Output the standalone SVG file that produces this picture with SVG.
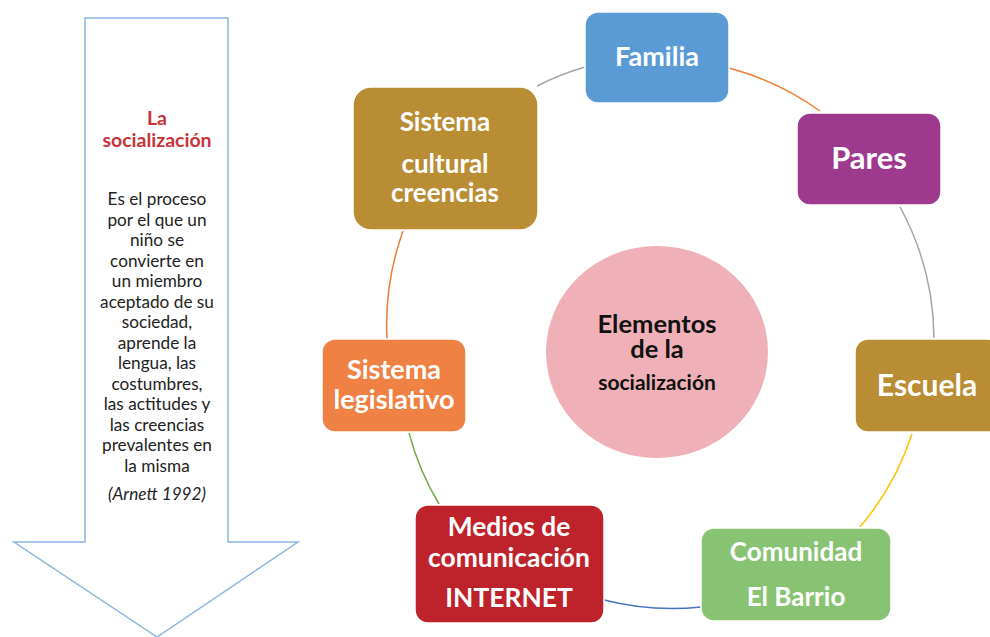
<svg xmlns="http://www.w3.org/2000/svg" width="990" height="637" viewBox="0 0 990 637">
<style>
.box{stroke:#ffffff;stroke-width:1.5}
.lbl{font-family:Lato,"Liberation Sans",sans-serif;font-weight:bold;fill:#ffffff;text-anchor:middle}
.body{font-family:Lato,"Liberation Sans",sans-serif;font-size:17.2px;fill:#222222;text-anchor:middle}
.ttl{font-family:Lato,"Liberation Sans",sans-serif;font-size:19.5px;font-weight:bold;fill:#c8333b;text-anchor:middle}
.ctr{font-family:Lato,"Liberation Sans",sans-serif;font-weight:bold;fill:#111111;text-anchor:middle}
.arc{fill:none;stroke-width:1.5}
</style>
<rect width="990" height="637" fill="#ffffff"/>
<g id="arrow">
<path d="M85,18 L228,18 L228,542 L298,542 L157,637 L14,542 L85,542 Z" fill="#ffffff" stroke="#8cb4e0" stroke-width="1.5"/>
<text class="ttl" x="157" y="125">La</text>
<text class="ttl" x="157" y="147">socialización</text>
<text class="body" x="157" y="205">Es el proceso</text>
<text class="body" x="157" y="225.5">por el que un</text>
<text class="body" x="157" y="246">niño se</text>
<text class="body" x="157" y="266.5">convierte en</text>
<text class="body" x="157" y="287">un miembro</text>
<text class="body" x="157" y="307.5">aceptado de su</text>
<text class="body" x="157" y="328">sociedad,</text>
<text class="body" x="157" y="348.5">aprende la</text>
<text class="body" x="157" y="369">lengua, las</text>
<text class="body" x="157" y="389.5">costumbres,</text>
<text class="body" x="157" y="410">las actitudes y</text>
<text class="body" x="157" y="430.5">las creencias</text>
<text class="body" x="157" y="451">prevalentes en</text>
<text class="body" x="157" y="471.5">la misma</text>
<text class="body" x="157" y="500" font-style="italic" font-size="17.8">(Arnett 1992)</text>
</g>
<g id="connectors">
<path class="arc" stroke="#a5a5a5" d="M537,86 A277,277 0 0 1 585,67"/>
<path class="arc" stroke="#ed7d31" d="M729,68 A277,277 0 0 1 820,111"/>
<path class="arc" stroke="#a5a5a5" d="M900,207 A277,277 0 0 1 934,338"/>
<path class="arc" stroke="#ffc000" d="M912,434 A277,277 0 0 1 860,527"/>
<path class="arc" stroke="#4472c4" d="M701,607 A277,277 0 0 1 604,600"/>
<path class="arc" stroke="#70ad47" d="M439,504 A277,277 0 0 1 409,433"/>
<path class="arc" stroke="#ed7d31" d="M387,339 A277,277 0 0 1 403,231"/>
</g>
<g id="center">
<ellipse cx="657" cy="352" rx="111" ry="106" fill="#f0b0b7"/>
<text class="ctr" x="657" y="333" font-size="25.5">Elementos</text>
<text class="ctr" x="657" y="358" font-size="25.5">de la</text>
<text class="ctr" x="657" y="390" font-size="21">socialización</text>
</g>
<g id="familia">
<rect class="box" x="585" y="12" width="144" height="91" rx="13" fill="#5b9bd5"/>
<text class="lbl" x="657" y="66" font-size="27">Familia</text>
</g>
<g id="pares">
<rect class="box" x="797" y="113" width="144" height="92" rx="13" fill="#9e3a8e"/>
<text class="lbl" x="869" y="169" font-size="31">Pares</text>
</g>
<g id="escuela">
<rect class="box" x="855" y="339" width="146" height="93" rx="13" fill="#b98d33"/>
<text class="lbl" x="927" y="396" font-size="30">Escuela</text>
</g>
<g id="comunidad">
<rect class="box" x="701" y="528" width="190" height="93" rx="13" fill="#88c373"/>
<text class="lbl" x="796" y="561" font-size="26">Comunidad</text>
<text class="lbl" x="796" y="606" font-size="26">El Barrio</text>
</g>
<g id="medios">
<rect class="box" x="415" y="505" width="189" height="118" rx="13" fill="#be222b"/>
<text class="lbl" x="509" y="536" font-size="26.4">Medios de</text>
<text class="lbl" x="509" y="567" font-size="26.4">comunicación</text>
<text class="lbl" x="509" y="607" font-size="26.4">INTERNET</text>
</g>
<g id="legislativo">
<rect class="box" x="322" y="339" width="144" height="93" rx="13" fill="#ee8143"/>
<text class="lbl" x="394" y="379" font-size="27">Sistema</text>
<text class="lbl" x="394" y="409" font-size="27">legislativo</text>
</g>
<g id="cultural">
<rect class="box" x="353" y="87" width="185" height="143" rx="18" fill="#b98d33"/>
<text class="lbl" x="445" y="131" font-size="26">Sistema</text>
<text class="lbl" x="445" y="173" font-size="26">cultural</text>
<text class="lbl" x="445" y="202" font-size="26">creencias</text>
</g>
</svg>
